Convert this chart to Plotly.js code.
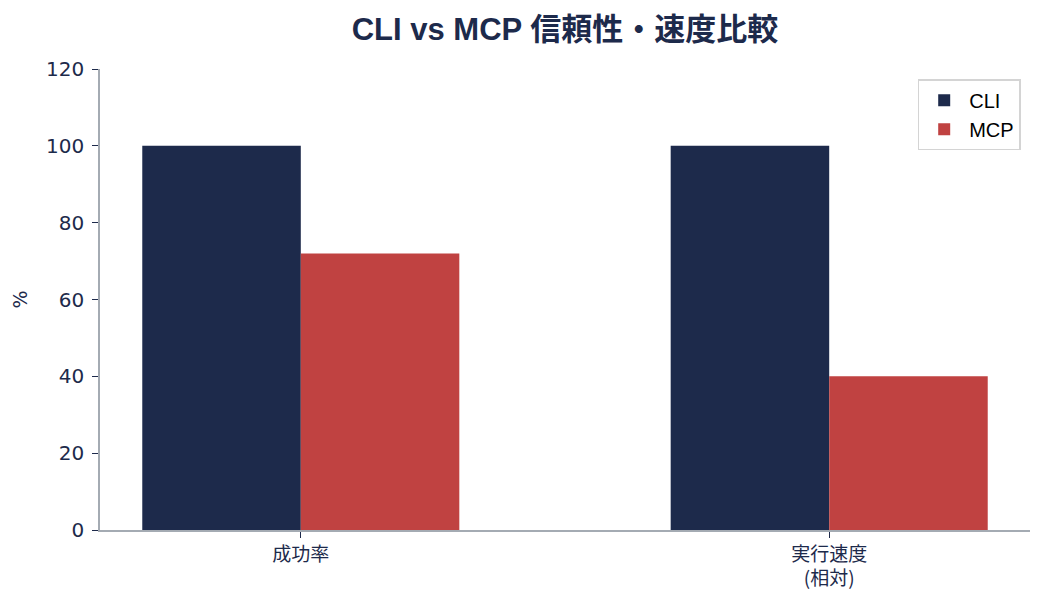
<!DOCTYPE html>
<html>
<head>
<meta charset="utf-8">
<script src="https://cdn.plot.ly/plotly-3.0.1.min.js"></script>
<style>body{margin:0;background:#fff}#chart{width:1044px;height:610px}</style>
</head>
<body>
<div id="chart"></div>
<script>
var categories = ['成功率', '実行速度<br>(相対)'];
var cliValues = [100, 100];
var mcpValues = [72, 40];

var navy = '#1d2a4b';
var red = '#c04241';

var trace1 = {
  x: categories,
  y: cliValues,
  type: 'bar',
  name: 'CLI',
  marker: { color: navy }
};

var trace2 = {
  x: categories,
  y: mcpValues,
  type: 'bar',
  name: 'MCP',
  marker: { color: red }
};

var layout = {
  width: 1044,
  height: 610,
  margin: { l: 100, r: 14, t: 69, b: 80 },
  paper_bgcolor: '#fff',
  plot_bgcolor: '#fff',
  font: { family: '"DejaVu Sans", "Noto Sans CJK JP", sans-serif', color: navy, size: 19 },
  title: {
    text: '<b>CLI vs MCP 信頼性・速度比較</b>',
    x: 0.5, xref: 'paper', y: 0.953, yanchor: 'middle',
    font: { family: '"Liberation Sans", Arial, "Noto Sans CJK JP", sans-serif', size: 31, color: navy }
  },
  barmode: 'group',
  bargap: 0.4,
  bargroupgap: 0,
  showlegend: true,
  legend: {
    x: 0.99, y: 0.978, xanchor: 'right', yanchor: 'top',
    bgcolor: '#fff', bordercolor: '#d4d4d4', borderwidth: 1.5,
    itemwidth: 40,
    font: { family: '"Liberation Sans", Arial, sans-serif', size: 20, color: '#000' }
  },
  xaxis: {
    range: [-0.38, 1.38],
    showline: true, linecolor: '#a4abb3', linewidth: 1.5,
    ticks: 'outside', ticklen: 6, tickcolor: navy,
    showgrid: false, zeroline: false,
    tickfont: { family: '"Noto Sans CJK JP", sans-serif', size: 19, color: navy }
  },
  yaxis: {
    range: [0, 120],
    dtick: 20,
    showline: true, linecolor: '#a4abb3', linewidth: 1.5,
    ticks: 'outside', ticklen: 6, tickcolor: navy,
    ticklabelstandoff: 4,
    showgrid: false, zeroline: false,
    tickfont: { size: 20, color: navy },
    title: { text: '%', font: { size: 19, color: navy }, standoff: 13 }
  }
};

Plotly.newPlot('chart', [trace1, trace2], layout, { displayModeBar: false });
</script>
</body>
</html>
